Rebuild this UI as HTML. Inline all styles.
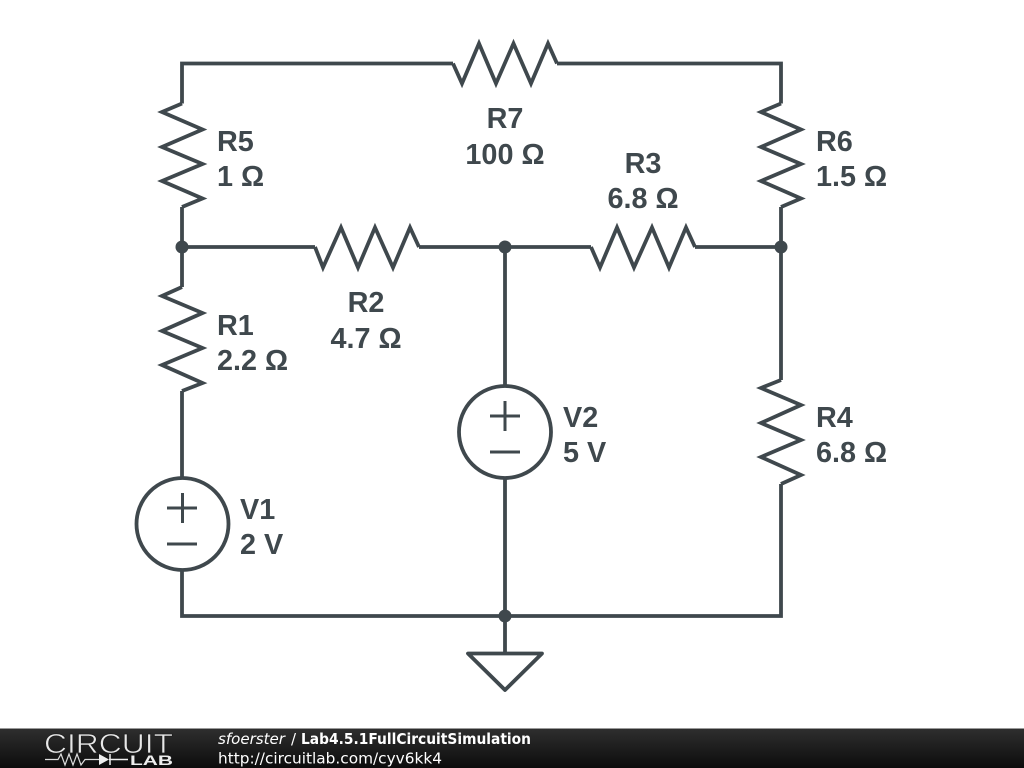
<!DOCTYPE html>
<html><head><meta charset="utf-8"><style>
html,body{margin:0;padding:0;background:#fff;width:1024px;height:768px;overflow:hidden}
svg{display:block}
.w{fill:none;stroke:#3f484d;stroke-width:3.8;stroke-linejoin:miter;stroke-miterlimit:10;stroke-linecap:butt}
.t{font-family:"Liberation Sans",sans-serif;font-weight:bold;font-size:28.8px;fill:#3f484d}
.f{font-family:"DejaVu Sans",sans-serif;font-size:15px;fill:#fff}
</style></head><body>
<svg width="1024" height="768" viewBox="0 0 1024 768" xmlns="http://www.w3.org/2000/svg">
<defs><linearGradient id="g" x1="0" y1="0" x2="0" y2="1"><stop offset="0" stop-color="#2e2e2e"/><stop offset="1" stop-color="#0c0c0c"/></linearGradient></defs>
<rect width="1024" height="768" fill="#fff"/>
<!-- wires -->
<path class="w" d="M182 103.5V63.5H453M557 63.5H781V103.5"/>
<path class="w" d="M182 207V287M182 391V478M182 570V616H781V484M781 207V380"/>
<path class="w" d="M182 247H315M419 247H591M695 247H781"/>
<path class="w" d="M505 247V386M505 478V653"/>
<!-- resistors -->
<polyline class="w" points="453,63.5 462,83.5 479,43.5 496,83.5 513.5,43.5 531,83.5 548,43.5 557,63.5"/>
<polyline class="w" points="182,103.5 162,112 202.5,129.5 162,147 202.5,164 162,181 202.5,198.5 182,207"/>
<polyline class="w" points="781,103.5 761,112 801,129.5 761,147 801,164 761,181 801,198.5 781,207"/>
<polyline class="w" points="182,287 162,296 202.5,313 162,331 202.5,348 162,365 202.5,383 182,391"/>
<polyline class="w" points="781,380 761,388 801,405 761,423 801,440 761,457 801,475 781,484"/>
<polyline class="w" points="315,247 323,267.5 341,227.5 358,267.5 375,227.5 393,267.5 410,227.5 419,247"/>
<polyline class="w" points="591,247 600,267.5 617,227.5 634,267.5 652,227.5 669,267.5 686,227.5 695,247"/>
<!-- sources -->
<circle class="w" cx="182.5" cy="524" r="46"/>
<path class="w" style="stroke-width:3" d="M167 508H197M182.5 493V523M167 544H197"/>
<circle class="w" cx="505" cy="432" r="46"/>
<path class="w" style="stroke-width:3" d="M490 416H520M505 401V431M490 452H520"/>
<!-- ground -->
<polygon class="w" points="468,653.5 542,653.5 505,690" style="stroke-linejoin:round"/>
<!-- junctions -->
<g fill="#3f484d"><circle cx="182" cy="247" r="6.5"/><circle cx="505" cy="247" r="6.5"/><circle cx="781" cy="247" r="6.5"/><circle cx="505" cy="616" r="6.5"/></g>
<!-- labels -->
<text class="t" x="217" y="151">R5</text><text class="t" x="217" y="186">1 Ω</text>
<text class="t" x="816" y="151">R6</text><text class="t" x="816" y="186">1.5 Ω</text>
<text class="t" x="505" y="128" text-anchor="middle">R7</text><text class="t" x="505" y="164" text-anchor="middle">100 Ω</text>
<text class="t" x="643" y="173" text-anchor="middle">R3</text><text class="t" x="643" y="208" text-anchor="middle">6.8 Ω</text>
<text class="t" x="366" y="312" text-anchor="middle">R2</text><text class="t" x="366" y="348" text-anchor="middle">4.7 Ω</text>
<text class="t" x="217" y="335">R1</text><text class="t" x="217" y="370">2.2 Ω</text>
<text class="t" x="816" y="427">R4</text><text class="t" x="816" y="462">6.8 Ω</text>
<text class="t" x="240" y="519">V1</text><text class="t" x="240" y="554">2 V</text>
<text class="t" x="563" y="427">V2</text><text class="t" x="563" y="462">5 V</text>
<!-- footer -->
<rect x="0" y="729" width="1024" height="39" fill="url(#g)"/>
<rect x="0" y="728" width="1024" height="1" fill="#999"/>
<text x="44" y="753" font-family="Liberation Sans,sans-serif" font-size="28" fill="#e8e8e8" stroke="#1e1e1e" stroke-width="0.7" textLength="129" lengthAdjust="spacingAndGlyphs">CIRCUIT</text>
<path d="M45 759.5H58L61 754 65 765 69 754 73 765 77 754 81 765 85 759.5H99" fill="none" stroke="#ddd" stroke-width="1.2"/>
<path d="M99 754V765L109 759.5Z" fill="#eee"/>
<path d="M110 754V765M109 759.5H128" stroke="#eee" stroke-width="1.5" fill="none"/>
<text x="130" y="765" font-family="Liberation Sans,sans-serif" font-size="14" font-weight="bold" fill="#eee" textLength="43" lengthAdjust="spacingAndGlyphs">LAB</text>
<text class="f" x="218" y="744" font-style="italic" textLength="67" lengthAdjust="spacingAndGlyphs">sfoerster</text>
<text class="f" x="291" y="744">/</text>
<text class="f" x="301" y="744" font-weight="bold" textLength="230" lengthAdjust="spacingAndGlyphs">Lab4.5.1FullCircuitSimulation</text>
<text class="f" x="218" y="763.5" textLength="224" lengthAdjust="spacingAndGlyphs">http://circuitlab.com/cyv6kk4</text>
</svg>
</body></html>
